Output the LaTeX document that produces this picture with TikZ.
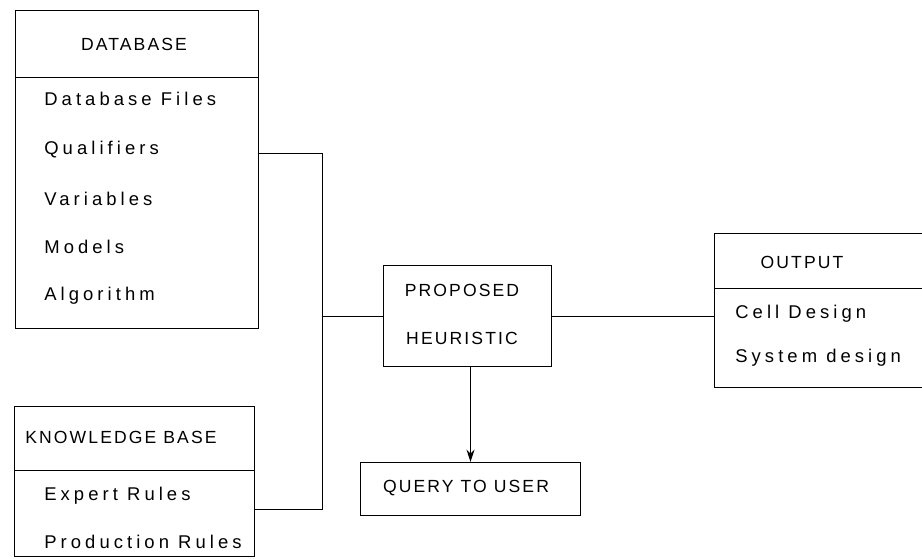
\documentclass[tikz,border=0pt]{standalone}
\usepackage{fontspec}
\setmainfont{Liberation Sans}
\usetikzlibrary{arrows.meta,calc,positioning}
\newfontfamily\capfam[LetterSpace=12]{Liberation Sans}
\newfontfamily\itemfam[LetterSpace=22]{Liberation Sans}
\def\hdfont{\capfam\fontsize{10pt}{12pt}\selectfont}
\def\itfont{\itemfam\fontsize{10.5pt}{12.5pt}\selectfont}
\tikzset{
  box/.style={draw=black, line width=0.6pt, inner sep=0pt},
  hdtext/.style={font=\hdfont, inner sep=0pt},
  ittext/.style={anchor=west, font=\itfont, inner sep=0pt},
  wire/.style={draw=black, line width=0.55pt},
}

\begin{document}
\begin{tikzpicture}[x=0.02cm, y=-0.02cm]
\useasboundingbox (0,0) rectangle (922,558);

% ===================== DATABASE =====================
\node[box, anchor=north west, minimum width=4.86cm, minimum height=6.36cm] (db) at (15,10) {};
\draw[wire] (15,77) -- (258,77);
\node[hdtext] (dbh) at (134,44) {DATABASE};
\node[ittext] (db1) at (44,99)  {Database Files};
\node[ittext] (db2) at (44,150) {Qualifiers};
\node[ittext] (db3) at (44,199) {Variables};
\node[ittext] (db4) at (44,247) {Models};
\node[ittext] (db5) at (44,296) {Algorithm};

% ===================== KNOWLEDGE BASE =====================
\node[box, anchor=north west, minimum width=4.8cm, minimum height=3.0cm] (kb) at (14,406) {};
\draw[wire] (14,470) -- (254,470);
\node[hdtext, anchor=west] (kbh) at (25,437) {KNOWLEDGE BASE};
\node[ittext] (kb1) at (44,496) {Expert Rules};
\node[ittext] (kb2) at (44,542) {Production Rules};

% ===================== HEURISTIC / QUERY =====================
\node[box, anchor=north west, minimum width=3.36cm, minimum height=2.02cm] (pp) at (383,265) {};
\node[hdtext] (pp1) at (462,290) {PROPOSED};
\node[hdtext] (pp2) at (462,338) {HEURISTIC};
\node[box, anchor=north west, minimum width=4.4cm, minimum height=1.06cm] (qu) at (360,462) {};
\node[hdtext] (qut) at (466,488) {QUERY TO USER};

% ===================== OUTPUT =====================
\node[box, anchor=north west, minimum width=4.3cm, minimum height=3.08cm] (out) at (714,233) {};
\draw[wire] (714,288) -- (930,288);
\node[hdtext] (outh) at (802,262) {OUTPUT};
\node[ittext] (out1) at (735,314) {Cell Design};
\node[ittext] (out2) at (735,358) {System design};

% ===================== CONNECTORS =====================
\coordinate (jt) at (322,153);
\coordinate (jm) at (322,316);
\coordinate (jb) at (322,509);
\draw[wire] (db.east |- jt) -- (jt) -- (jb) -- (kb.east |- jb);
\draw[wire] (jm) -- (pp.west |- jm);
\draw[wire] (pp.east |- jm) -- (out.west |- jm);
\draw[wire, line width=1.1pt, -{Stealth[length=7pt, width=4.5pt]}]
  (pp.south -| qu.north) -- (qu.north);
\end{tikzpicture}
\end{document}
